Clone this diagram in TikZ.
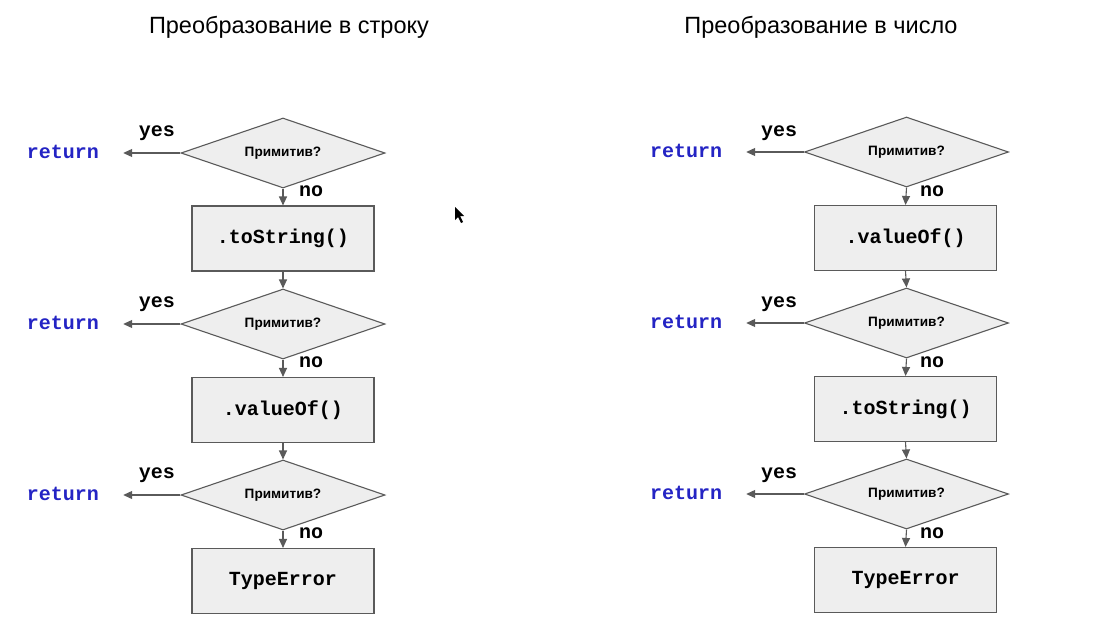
\documentclass[tikz,border=0pt]{standalone}
\usepackage{fontspec}
\setmainfont{Liberation Sans}
\newfontfamily\codefont{Liberation Mono}
\usetikzlibrary{shapes.geometric,arrows.meta}
\definecolor{linegray}{HTML}{5A5A5A}
\definecolor{fillgray}{HTML}{EEEEEE}
\definecolor{retblue}{HTML}{2424C4}
\tikzset{
  decision/.style={diamond, draw=linegray, fill=fillgray, line width=1.1pt, inner sep=0pt,
    shape aspect=2.9, minimum width=204pt, minimum height=70pt,
    font=\fontsize{13.6}{15}\selectfont\bfseries},
  stepbox/.style={rectangle, draw=linegray, fill=fillgray, line width=1.1pt,
    minimum width=182pt, minimum height=65pt, font=\fontsize{20}{22}\selectfont\codefont\bfseries},
  retnode/.style={inner ysep=0pt, inner xsep=24pt, text=retblue, font=\fontsize{20}{22}\selectfont\codefont\bfseries},
  lbl/.style={inner sep=0pt, font=\fontsize{20}{22}\selectfont\codefont\bfseries},
  conn/.style={draw=linegray, line width=1.1pt, -{Triangle[length=9pt,width=8pt]}},
  title/.style={font=\fontsize{23.5}{26}\selectfont}
}
\begin{document}
\begin{tikzpicture}[x=1pt,y=-1pt]
\useasboundingbox[fill=white] (0,0) rectangle (1118,634);
% titles
\node[title] (t1) at (289,27) {Преобразование в строку};
\node[title] (t2) at (821,27) {Преобразование в число};
% left column
\node[decision] (ld1) at (283,153) {Примитив?};
\node[stepbox] (lb1) at (283,238.5) {.toString()};
\node[decision] (ld2) at (283,324) {Примитив?};
\node[stepbox] (lb2) at (283,410) {.valueOf()};
\node[decision] (ld3) at (283,495) {Примитив?};
\node[stepbox] (lb3) at (283,581) {TypeError};
\foreach \i/\y in {1/153,2/324,3/495}{
  \node[retnode] (lr\i) at (63,\y-1) {return};
  \node[lbl] (ly\i) at (157,\y-20) {yes};
  \node[lbl] (ln\i) at (311,\y+38) {no};
  \draw[conn] (ld\i.west) -- (lr\i.east |- ld\i.west);
  \draw[conn] (ld\i.south) -- (lb\i.north);
}
\draw[conn] (lb1.south) -- (ld2.north);
\draw[conn] (lb2.south) -- (ld3.north);
% right column
\node[decision] (rd1) at (906.5,152) {Примитив?};
\node[stepbox] (rb1) at (905.5,238) {.valueOf()};
\node[decision] (rd2) at (906.5,323) {Примитив?};
\node[stepbox] (rb2) at (905.5,409) {.toString()};
\node[decision] (rd3) at (906.5,494) {Примитив?};
\node[stepbox] (rb3) at (905.5,580) {TypeError};
\foreach \i/\y in {1/152,2/323,3/494}{
  \node[retnode] (rr\i) at (686,\y-1) {return};
  \node[lbl] (ry\i) at (779,\y-19) {yes};
  \node[lbl] (rn\i) at (932,\y+39) {no};
  \draw[conn] (rd\i.west) -- (rr\i.east |- rd\i.west);
  \draw[conn] (rd\i.south) -- (rb\i.north);
}
\draw[conn] (rb1.south) -- (rd2.north);
\draw[conn] (rb2.south) -- (rd3.north);
% mouse cursor
\fill[black] (455,207) -- (455,220) -- (458,217) -- (461,223) -- (463,222) -- (460,216) -- (464,216) -- cycle;
\end{tikzpicture}
\end{document}
